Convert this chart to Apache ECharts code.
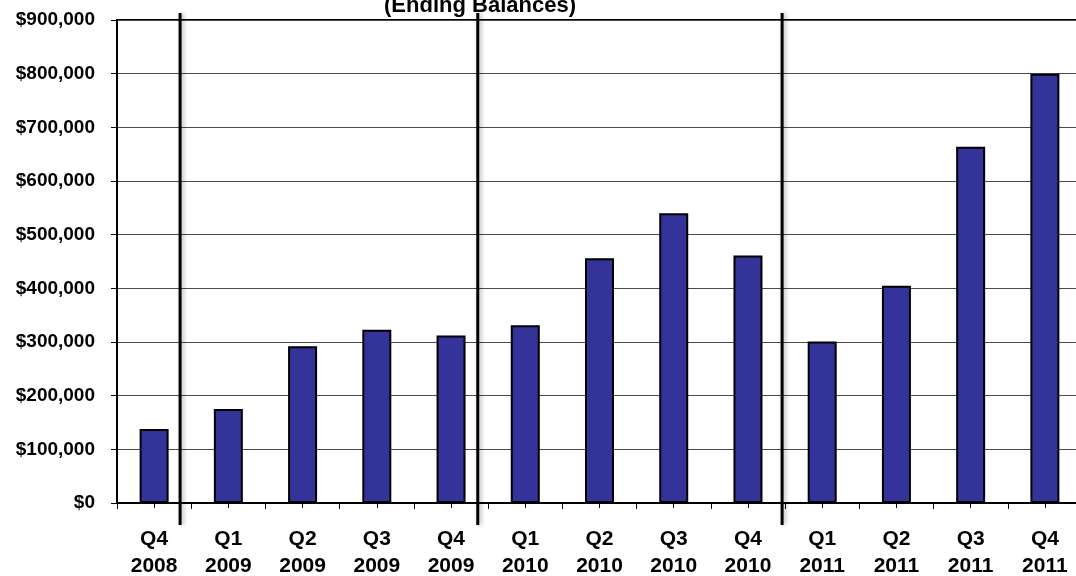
<!DOCTYPE html>
<html>
<head>
<meta charset="utf-8">
<script src="https://cdn.jsdelivr.net/npm/echarts@6/dist/echarts.min.js"></script>
<style>
  html, body { margin: 0; padding: 0; background: #ffffff; }
  #chart { width: 1076px; height: 576px; }
</style>
</head>
<body>
<div id="chart"></div>
<script>
// Quarter labels (quarter on the first line, year on the second)
const quarters = ['Q4', 'Q1', 'Q2', 'Q3', 'Q4', 'Q1', 'Q2', 'Q3', 'Q4', 'Q1', 'Q2', 'Q3', 'Q4'];
const years = ['2008', '2009', '2009', '2009', '2009', '2010', '2010', '2010', '2010', '2011', '2011', '2011', '2011'];

// Ending balance at the close of each quarter (USD)
const endingBalances = [138000, 175000, 292000, 323000, 312000, 331000, 456000, 540000, 461000, 301000, 405000, 664000, 800000];

// Year dividers, in category units (0 = first quarter's centre)
const yearDividers = [0.35, 4.36, 8.46];

// Value axis ticks
const yTicks = [0, 100000, 200000, 300000, 400000, 500000, 600000, 700000, 800000, 900000];

const categories = quarters.map((q, i) => q + '\n' + years[i]);
const FONT = '"Liberation Sans", Arial, Helvetica, sans-serif';

const chart = echarts.init(document.getElementById('chart'), null, { renderer: 'canvas' });

chart.setOption({
  animation: false,
  backgroundColor: '#ffffff',
  graphic: [{
    type: 'text',
    x: 480,
    y: 17,
    style: {
      text: '(Ending Balances)',
      font: 'bold 22px ' + FONT,
      fill: '#000000',
      textAlign: 'center',
      textVerticalAlign: 'bottom'
    },
    z: 100
  }],
  grid: {
    left: 117,
    right: -6,
    top: 20,
    bottom: 73,
    outerBoundsMode: 'none',
    containLabel: false,
    show: true,
    borderColor: '#000000',
    borderWidth: 2,
    backgroundColor: '#ffffff'
  },
  xAxis: [
    {
      type: 'category',
      data: categories,
      axisLine: { show: true, onZero: false, lineStyle: { color: '#000000', width: 2 } },
      axisTick: { show: true, length: 6, lineStyle: { color: '#000000', width: 1 } },
      axisLabel: {
        interval: 0,
        margin: 23,
        fontFamily: FONT,
        fontWeight: 'bold',
        fontSize: 21,
        lineHeight: 27,
        color: '#000000'
      },
      splitLine: { show: false }
    },
    {
      // centre ticks that straddle the baseline
      type: 'category',
      data: categories,
      position: 'bottom',
      offset: -5,
      axisLine: { show: false, onZero: false },
      axisTick: { show: true, alignWithLabel: true, length: 10, lineStyle: { color: '#000000', width: 1 } },
      axisLabel: { show: false },
      splitLine: { show: false }
    },
    {
      // continuous scale for placing the year dividers
      type: 'value',
      min: -0.5,
      max: 12.5,
      show: false,
      axisLine: { onZero: false },
      splitLine: { show: false }
    }
  ],
  yAxis: {
    type: 'value',
    min: yTicks[0],
    max: yTicks[yTicks.length - 1],
    interval: yTicks[1] - yTicks[0],
    axisLine: { show: true, onZero: false, lineStyle: { color: '#000000', width: 2 } },
    axisTick: { show: true, length: 6, lineStyle: { color: '#000000', width: 1 } },
    axisLabel: {
      margin: 22,
      fontFamily: FONT,
      fontWeight: 'bold',
      fontSize: 19,
      color: '#000000',
      formatter: v => '$' + v.toLocaleString('en-US')
    },
    splitLine: { show: true, lineStyle: { color: '#4a4a4a', width: 1 } }
  },
  series: [
    {
      type: 'bar',
      data: endingBalances,
      xAxisIndex: 0,
      barWidth: 29,
      itemStyle: { color: '#333399', borderColor: '#000000', borderWidth: 2 },
      z: 3
    },
    {
      type: 'custom',
      xAxisIndex: 2,
      data: yearDividers.map(v => [v, 0]),
      encode: { x: 0, y: 1 },
      clip: false,
      silent: true,
      z: 10,
      renderItem: function (params, api) {
        const top = api.coord([api.value(0), 913000]);
        const bottom = api.coord([api.value(0), -41000]);
        return {
          type: 'line',
          shape: { x1: top[0], y1: top[1], x2: bottom[0], y2: bottom[1] },
          style: {
            stroke: '#000000',
            lineWidth: 3,
            shadowBlur: 4,
            shadowOffsetX: 2,
            shadowColor: 'rgba(0,0,0,0.3)'
          }
        };
      }
    }
  ]
});
</script>
</body>
</html>
